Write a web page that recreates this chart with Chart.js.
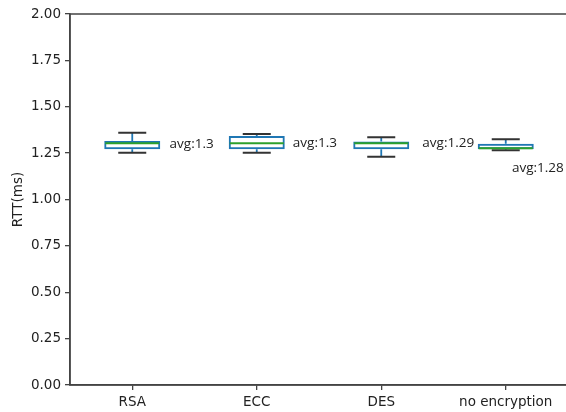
<!DOCTYPE html>
<html>
<head>
<meta charset="utf-8">
<script src="https://cdn.jsdelivr.net/npm/chart.js@4/dist/chart.umd.min.js"></script>
<style>
  html, body { margin: 0; padding: 0; background: #fff; overflow: hidden; }
  #wrap { width: 572px; height: 412px; }
</style>
</head>
<body>
<div id="wrap"><canvas id="chart"></canvas></div>
<script>
// Box plot values (RTT in ms)
const categories = ['RSA', 'ECC', 'DES', 'no encryption'];
const whiskerLow = [1.252, 1.252, 1.231, 1.266];
const q1 = [1.271, 1.271, 1.271, 1.271];
const median = [1.303, 1.303, 1.303, 1.276];
const q3 = [1.315, 1.342, 1.312, 1.301];
const whiskerHigh = [1.360, 1.353, 1.335, 1.325];
const avgs = [1.3, 1.3, 1.29, 1.28];
// where each avg label sits (x in box positions 1..4, y in ms)
const avgLabelX = [1.30, 2.29, 3.33, 4.05];
const avgLabelY = [1.30, 1.303, 1.303, 1.17];

const tickFont = { family: "'DejaVu Sans', sans-serif", size: 13.5 };
const BOX_WIDTH = 0.45;

// Draws whiskers, caps, medians, the frame and the avg labels
const boxExtras = {
  id: 'boxExtras',
  afterDatasetsDraw(chart) {
    const ctx = chart.ctx;
    const x = chart.scales.x;
    const y = chart.scales.y;
    const step = x.getPixelForValue(1) - x.getPixelForValue(0);
    const capHalf = BOX_WIDTH * step / 4;
    const boxHalf = BOX_WIDTH * step / 2;

    ctx.save();
    categories.forEach((c, i) => {
      const cx = x.getPixelForValue(i);
      // whiskers
      ctx.strokeStyle = '#1f77b4';
      ctx.lineWidth = 1.8;
      ctx.beginPath();
      ctx.moveTo(cx, y.getPixelForValue(q3[i]));
      ctx.lineTo(cx, y.getPixelForValue(whiskerHigh[i]));
      ctx.moveTo(cx, y.getPixelForValue(q1[i]));
      ctx.lineTo(cx, y.getPixelForValue(whiskerLow[i]));
      ctx.stroke();
      // caps
      ctx.strokeStyle = '#333';
      ctx.lineWidth = 2;
      ctx.beginPath();
      ctx.moveTo(cx - capHalf, y.getPixelForValue(whiskerHigh[i]));
      ctx.lineTo(cx + capHalf, y.getPixelForValue(whiskerHigh[i]));
      ctx.moveTo(cx - capHalf, y.getPixelForValue(whiskerLow[i]));
      ctx.lineTo(cx + capHalf, y.getPixelForValue(whiskerLow[i]));
      ctx.stroke();
      // median
      ctx.strokeStyle = '#2ca02c';
      ctx.lineWidth = 2;
      ctx.beginPath();
      ctx.moveTo(cx - boxHalf + 1, y.getPixelForValue(median[i]));
      ctx.lineTo(cx + boxHalf - 1, y.getPixelForValue(median[i]));
      ctx.stroke();
      // avg label
      ctx.fillStyle = '#222';
      ctx.font = "13.5px 'Open Sans', sans-serif";
      ctx.textAlign = 'left';
      ctx.textBaseline = 'middle';
      ctx.fillText('avg:' + avgs[i], x.getPixelForValue(avgLabelX[i] - 1), y.getPixelForValue(avgLabelY[i]));
    });

    // frame
    const a = chart.chartArea;
    ctx.strokeStyle = '#444';
    ctx.lineWidth = 1.5;
    ctx.strokeRect(a.left, a.top, a.right - a.left, a.bottom - a.top);
    ctx.restore();
  }
};

new Chart(document.getElementById('chart'), {
  type: 'bar',
  data: {
    labels: categories,
    datasets: [{
      label: 'RTT',
      data: categories.map((c, i) => [q1[i], q3[i]]),
      backgroundColor: 'rgba(0,0,0,0)',
      borderColor: '#1f77b4',
      borderWidth: 2,
      borderSkipped: false,
      barPercentage: BOX_WIDTH,
      categoryPercentage: 1
    }]
  },
  options: {
    responsive: true,
    maintainAspectRatio: false,
    animation: false,
    layout: { padding: { top: 14, right: 4, left: 0, bottom: 0 } },
    plugins: {
      legend: { display: false },
      tooltip: { enabled: false }
    },
    scales: {
      x: {
        afterFit: s => { s.height = 27; },
        grid: { display: true, offset: false, drawOnChartArea: false, drawTicks: true, tickLength: 5, color: '#444', lineWidth: 1.3 },
        border: { display: true, color: '#444', width: 1.5 },
        ticks: { font: tickFont, color: '#222', padding: 4 }
      },
      y: {
        min: 0,
        max: 2,
        afterFit: s => { s.width = 70; },
        grid: { display: true, drawOnChartArea: false, drawTicks: true, tickLength: 5, color: '#444', lineWidth: 1.3 },
        border: { display: true, color: '#444', width: 1.5 },
        ticks: {
          stepSize: 0.25,
          font: tickFont,
          color: '#222',
          padding: 4,
          callback: v => v.toFixed(2)
        },
        title: { display: true, text: 'RTT(ms)', font: tickFont, color: '#222', padding: { top: 10, bottom: 0 } }
      }
    }
  },
  plugins: [boxExtras]
});
</script>
</body>
</html>
